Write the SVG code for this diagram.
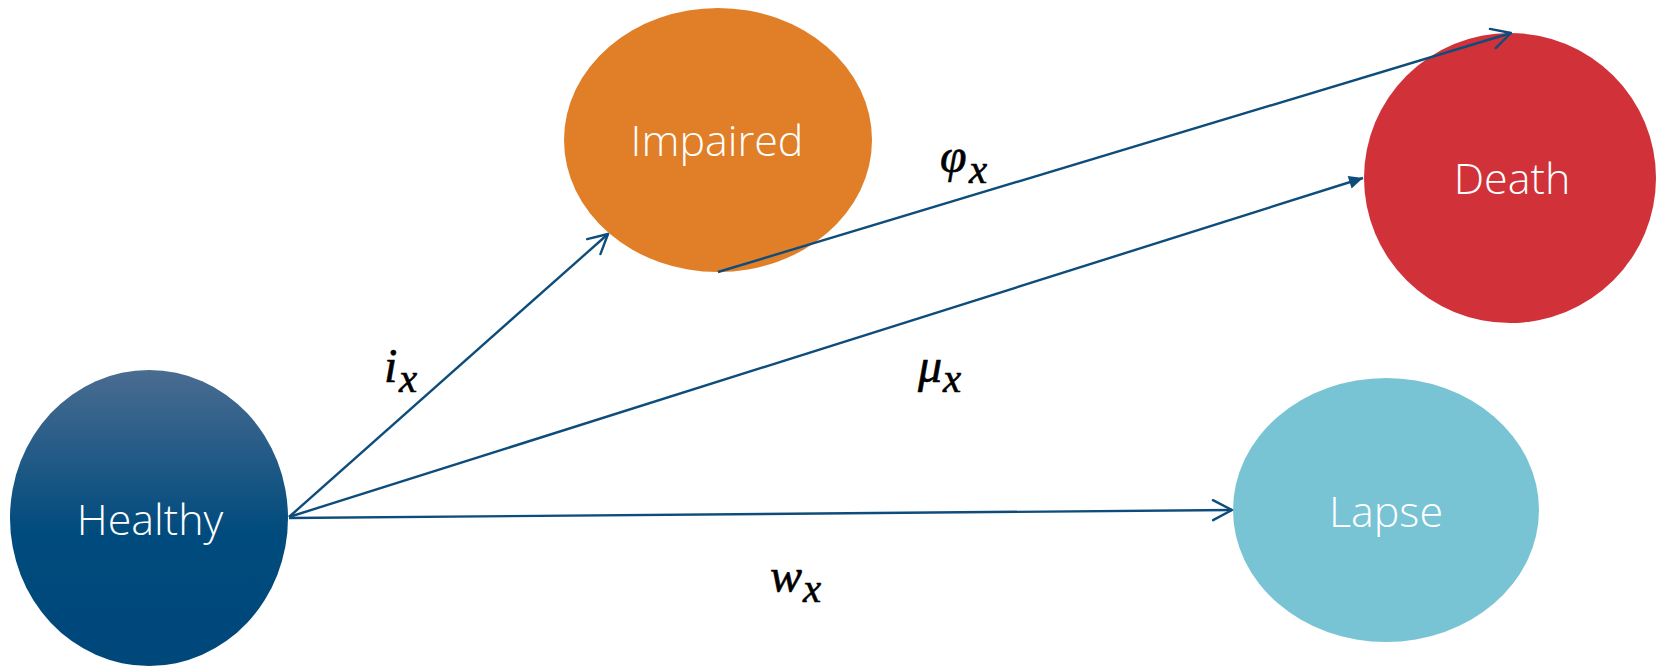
<svg xmlns="http://www.w3.org/2000/svg" width="1656" height="667" viewBox="0 0 1656 667">
<defs>
<linearGradient id="gHealthy" x1="0" y1="0" x2="0" y2="1">
<stop offset="0" stop-color="#4a6c91"/>
<stop offset="0.55" stop-color="#004b7d"/>
<stop offset="1" stop-color="#00477a"/>
</linearGradient>
<marker id="open" markerUnits="userSpaceOnUse" viewBox="-22 -12 24 24" markerWidth="24" markerHeight="24" refX="0" refY="0" orient="auto" overflow="visible">
<path d="M-19,-10 L0,0 L-19,10" fill="none" stroke="#0e4d7b" stroke-width="2.4" stroke-linecap="round" stroke-linejoin="round"/>
</marker>
<marker id="filled" markerUnits="userSpaceOnUse" viewBox="-14 -7 15 14" markerWidth="15" markerHeight="14" refX="0" refY="0" orient="auto" overflow="visible">
<path d="M-14,-6.5 L0,0 L-14,6.5 Z" fill="#0e4d7b"/>
</marker>
</defs>
<style>
.lbl{font-family:"Open Sans","Liberation Sans",sans-serif;font-weight:300;font-size:43px;fill:#ffffff;text-anchor:middle}
.math{font-family:"Liberation Serif","DejaVu Serif",serif;font-style:italic;fill:#000000;stroke:#000000;stroke-width:0.6}
.m{font-size:48px}
.s{font-size:41px}
.edge{fill:none;stroke:#0e4d7b;stroke-width:2.4}
</style>
<g id="node-healthy">
<ellipse cx="149" cy="518" rx="139" ry="148" fill="url(#gHealthy)"/>
<text class="lbl" x="150" y="535">Healthy</text>
</g>
<g id="node-impaired">
<ellipse cx="718" cy="140" rx="154" ry="132" fill="#e07f28"/>
<text class="lbl" x="717" y="156">Impaired</text>
</g>
<g id="node-death">
<ellipse cx="1510" cy="178" rx="146" ry="145" fill="#d1323a"/>
<text class="lbl" x="1512" y="194">Death</text>
</g>
<g id="node-lapse">
<ellipse cx="1386" cy="510" rx="153" ry="132" fill="#78c4d4"/>
<text class="lbl" x="1386" y="527">Lapse</text>
</g>
<g id="connectors">
<line class="edge" x1="289" y1="517" x2="608" y2="234" marker-end="url(#open)"/>
<line class="edge" x1="718" y1="272" x2="1511" y2="33" marker-end="url(#open)"/>
<line class="edge" x1="289" y1="517" x2="1363" y2="178" marker-end="url(#filled)"/>
<line class="edge" x1="289" y1="518" x2="1232" y2="510" marker-end="url(#open)"/>
</g>
<g id="labels">
<text class="math"><tspan class="m" x="384" y="382">i</tspan><tspan class="s" x="399" y="392">x</tspan></text>
<text class="math"><tspan class="m" x="918" y="382">μ</tspan><tspan class="s" x="943" y="392">x</tspan></text>
<text class="math"><tspan class="m" x="770" y="592">w</tspan><tspan class="s" x="803" y="602">x</tspan></text>
<text class="math"><tspan class="m" x="940" y="172">φ</tspan><tspan class="s" x="969" y="183">x</tspan></text>
</g>
</svg>
